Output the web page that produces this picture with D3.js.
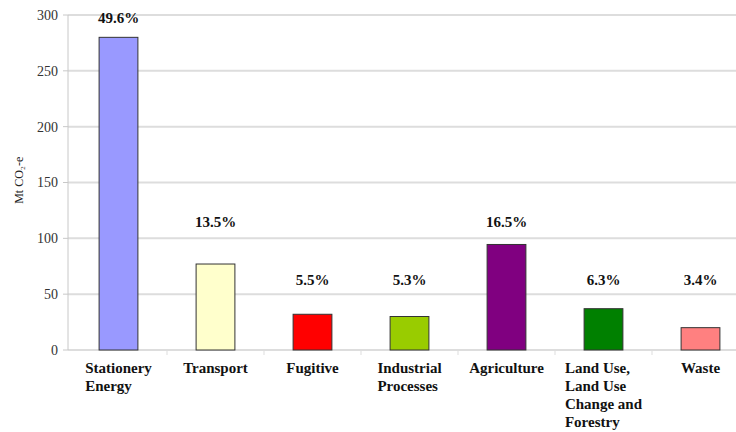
<!DOCTYPE html>
<html>
<head>
<meta charset="utf-8">
<script src="https://cdn.jsdelivr.net/npm/d3@7"></script>
</head>
<body style="margin:0;background:#fff">
<svg id="chart" width="736" height="432"></svg>
<script>
const categories = [
  ["Stationery", "Energy"],
  ["Transport"],
  ["Fugitive"],
  ["Industrial", "Processes"],
  ["Agriculture"],
  ["Land Use,", "Land Use", "Change and", "Forestry"],
  ["Waste"]
];
const values = [280, 77, 32, 30, 94.5, 37, 20];
const shares = ["49.6%", "13.5%", "5.5%", "5.3%", "16.5%", "6.3%", "3.4%"];
// height (in Mt) at which each share label sits
const labelLevels = [293, 110, 58, 58, 110, 58, 58];
const colors = ["#9999ff", "#ffffcc", "#ff0000", "#99cc00", "#800080", "#008000", "#ff8080"];
const yTicks = [0, 50, 100, 150, 200, 250, 300];

const width = 736;
const height = 432;
const serif = "'Liberation Serif'";

var svg = d3.select("#chart");

var xScale = d3.scaleBand()
  .domain(d3.range(categories.length))
  .range([70, 749])
  .paddingInner(0.6)
  .paddingOuter(0.3);

var yScale = d3.scaleLinear()
  .domain([0, 300])
  .range([350, 15]);

// gridlines
svg.selectAll("line.grid")
  .data(yTicks)
  .enter().append("line")
  .attr("class", "grid")
  .attr("x1", 68)
  .attr("x2", width)
  .attr("y1", d => yScale(d))
  .attr("y2", d => yScale(d))
  .attr("stroke", "#dddddd")
  .attr("stroke-width", 2);

svg.append("line")
  .attr("x1", 68).attr("x2", 68)
  .attr("y1", yScale(300)).attr("y2", yScale(0))
  .attr("stroke", "#c8c8c8");

svg.selectAll("line.ytick")
  .data(yTicks)
  .enter().append("line")
  .attr("class", "ytick")
  .attr("x1", 63).attr("x2", 68)
  .attr("y1", d => yScale(d))
  .attr("y2", d => yScale(d))
  .attr("stroke", "#c8c8c8");

// each label gets a transform, like the axis title that did render in serif
svg.selectAll("text.ylab")
  .data(yTicks)
  .enter().append("text")
  .attr("class", "ylab")
  .attr("transform", d => "translate(58," + yScale(d) + ")")
  .attr("dy", "0.35em")
  .attr("text-anchor", "end")
  .style("font-family", serif)
  .style("font-size", "14px")
  .attr("fill", "#333")
  .text(d => d);

svg.selectAll("line.xtick")
  .data(d3.range(1, categories.length))
  .enter().append("line")
  .attr("class", "xtick")
  .attr("x1", d => xScale(d) - xScale.step() * xScale.paddingInner() / 2)
  .attr("x2", d => xScale(d) - xScale.step() * xScale.paddingInner() / 2)
  .attr("y1", yScale(0))
  .attr("y2", yScale(0) + 5)
  .attr("stroke", "#dddddd");

svg.append("text")
  .attr("transform", "translate(23," + yScale(152) + ") rotate(-90)")
  .attr("text-anchor", "middle")
  .style("font-family", serif)
  .style("font-size", "12px")
  .attr("fill", "#222")
  .text("Mt CO₂-e");

svg.selectAll("rect")
  .data(values)
  .enter().append("rect")
  .attr("x", (d, i) => xScale(i))
  .attr("width", xScale.bandwidth())
  .attr("y", d => yScale(d))
  .attr("height", d => yScale(0) - yScale(d))
  .attr("fill", (d, i) => colors[i])
  .attr("stroke", "#333")
  .attr("stroke-width", 1);

svg.selectAll("text.share")
  .data(shares)
  .enter().append("text")
  .attr("class", "share")
  .attr("transform", (d, i) => "translate(" + (xScale(i) + xScale.bandwidth() / 2) + "," + yScale(labelLevels[i]) + ")")
  .attr("text-anchor", "middle")
  .style("font-family", serif)
  .style("font-size", "15px")
  .style("font-weight", "bold")
  .attr("fill", "#111")
  .text(d => d);

// one text per line, left-aligned, block centred on the bar
categories.forEach((lines, i) => {
  var texts = lines.map((line, j) => svg.append("text")
    .attr("class", "cat")
    .style("font-family", serif)
    .style("font-size", "15px")
    .style("font-weight", "bold")
    .attr("fill", "#111")
    .text(line));
  var widest = d3.max(texts, t => t.node().getComputedTextLength());
  var left = xScale(i) + xScale.bandwidth() / 2 - widest / 2;
  texts.forEach((t, j) => t.attr("transform", "translate(" + left + "," + (373 + j * 18) + ")"));
});
</script>
</body>
</html>
